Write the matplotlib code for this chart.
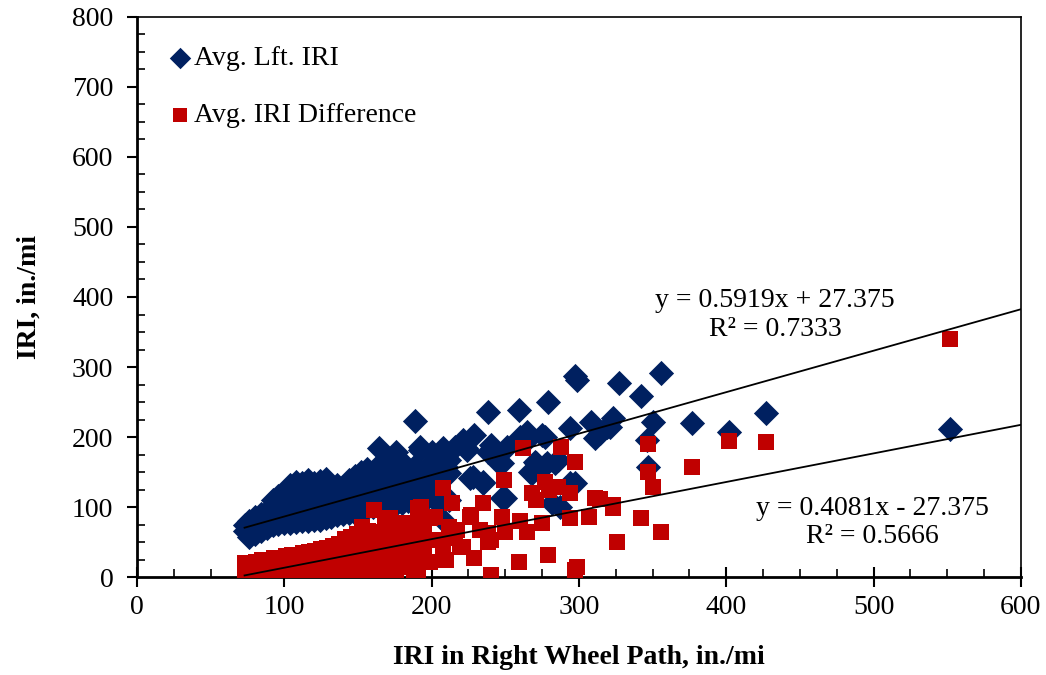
import matplotlib
matplotlib.use("Agg")
import matplotlib.pyplot as plt
from matplotlib.ticker import MultipleLocator

plt.rcParams['font.family'] = ['Liberation Serif', 'DejaVu Serif']

# Avg. Lft. IRI vs IRI in right wheel path (in./mi)
lft_x = [73, 73, 76, 76, 76, 80, 80, 80, 84, 84, 84, 88, 88, 88,
         92, 92, 92, 92, 96, 96, 96, 96, 100, 100, 100, 100,
         104, 104, 104, 104, 104, 108, 108, 108, 108, 108,
         112, 112, 112, 112, 112, 116, 116, 116, 116, 116,
         120, 120, 120, 120, 120, 124, 124, 124, 124, 124,
         128, 128, 128, 128, 128, 132, 132, 132, 132, 136, 136, 136, 136,
         140, 140, 140, 140, 144, 144, 144, 144, 148, 148, 148, 148,
         152, 152, 152, 152, 156, 156, 156, 156, 160, 160, 160, 160,
         164, 164, 164, 164, 164, 168, 168, 168, 168,
         172, 172, 172, 172, 172, 176, 176, 176, 176, 176,
         180, 180, 180, 180, 184, 184, 184, 188, 188, 188, 188, 189,
         192, 192, 192, 192, 192, 196, 196, 196, 199, 200, 200, 200,
         204, 204, 204, 208, 208, 210, 212, 212, 212, 216, 221, 224,
         223, 226, 228, 229, 235, 235, 238, 238, 240, 246, 248, 248,
         250, 251, 260, 259, 265, 267, 267, 268, 270, 271, 275, 277,
         277, 278, 279, 282, 284, 286, 287, 294, 294, 297, 297, 299,
         308, 311, 314, 319, 321, 323, 327, 342, 346, 347, 350, 356,
         377, 402, 427, 552]
lft_y = [66, 75, 58, 70, 80, 62, 74, 86, 66, 78, 90, 70, 82, 94,
         74, 86, 100, 110, 76, 90, 104, 116, 78, 92, 106, 120,
         78, 94, 108, 124, 132, 79, 95, 110, 126, 136,
         80, 96, 112, 128, 134, 80, 98, 114, 130, 138,
         81, 98, 114, 128, 134, 82, 100, 116, 130, 137,
         84, 100, 118, 132, 140, 86, 102, 118, 130, 88, 104, 120, 132,
         90, 106, 122, 128, 92, 108, 124, 138, 92, 110, 126, 144,
         95, 112, 128, 150, 98, 114, 130, 155, 100, 116, 132, 150,
         102, 118, 136, 160, 184, 103, 120, 140, 162,
         104, 122, 144, 166, 149, 105, 124, 146, 168, 179,
         106, 126, 148, 164, 108, 128, 150, 110, 130, 141, 157, 223,
         110, 128, 150, 181, 186, 112, 132, 156, 156, 129, 149, 179,
         106, 134, 170, 81, 184, 157, 110, 149, 167, 186, 196, 181,
         184, 141, 143, 203, 134, 136, 178, 236, 189, 163, 113, 163,
         113, 186, 200, 239, 207, 200, 150, 148, 164, 163, 203, 200,
         160, 163, 250, 106, 163, 167, 100, 213, 134, 134, 287, 281,
         221, 198, 206, 214, 214, 227, 277, 258, 196, 157, 222, 291,
         220, 207, 234, 212]

# Avg. IRI Difference vs IRI in right wheel path (in./mi)
diff_x = [73, 73, 73, 77, 77, 81, 81, 81, 85, 85, 85, 89, 89, 89,
          93, 93, 93, 97, 97, 97, 97, 101, 101, 101,
          105, 105, 105, 105, 109, 109, 109, 113, 113, 113, 113,
          117, 117, 117, 121, 121, 121, 121, 125, 125, 125,
          129, 129, 129, 129, 133, 133, 133, 133, 137, 137, 137, 137,
          141, 141, 141, 141, 145, 145, 145, 145, 149, 149, 149, 149,
          153, 153, 153, 153, 153, 157, 157, 157, 157,
          161, 161, 161, 161, 161, 165, 165, 165, 168, 168, 168, 168,
          172, 172, 172, 172, 176, 176, 176, 176, 180, 180, 180, 180,
          184, 184, 184, 188, 188, 188, 191, 191, 191, 193,
          195, 195, 195, 199, 199, 202, 205, 208, 208, 208, 210,
          212, 212, 214, 216, 217, 219, 221, 226, 227, 229, 233, 235,
          238, 238, 240, 240, 248, 249, 250, 259, 260, 262, 265,
          268, 271, 275, 277, 279, 280, 286, 288, 294, 294, 297, 297,
          299, 307, 311, 314, 323, 323, 326, 342, 347, 347, 350, 356,
          377, 402, 427, 552]
diff_y = [2, 12, 20, 4, 16, 2, 10, 22, 6, 18, 25, 2, 12, 24,
          5, 16, 27, 2, 10, 22, 28, 6, 18, 30,
          2, 12, 24, 32, 6, 18, 32, 2, 12, 26, 35,
          8, 20, 36, 3, 14, 28, 38, 8, 22, 40,
          2, 14, 30, 42, 8, 22, 36, 44, 4, 18, 32, 48,
          10, 26, 40, 54, 3, 18, 34, 58, 8, 26, 44, 62,
          3, 18, 36, 60, 72, 10, 28, 48, 66,
          4, 22, 40, 64, 96, 14, 39, 57, 8, 28, 50, 81,
          20, 39, 64, 84, 6, 30, 50, 77, 14, 40, 60, 77,
          24, 57, 70, 10, 36, 77, 7, 45, 99, 100,
          24, 43, 64, 21, 84, 86, 53, 27, 43, 127, 24,
          64, 72, 106, 56, 67, 43, 43, 86, 89, 27, 67, 106,
          50, 63, 3, 53, 86, 139, 64, 21, 80, 184, 64,
          120, 110, 78, 136, 31, 124, 129, 186, 84, 120, 164, 10,
          14, 86, 113, 111, 103, 98, 50, 84, 150, 190, 128, 65,
          157, 194, 193, 340]

# Excel trendlines (from the chart labels)
lft_slope, lft_icpt = 0.5919, 27.375
diff_slope, diff_icpt = 0.4081, -27.375
x_end = 600

navy = '#002060'
red = '#C00000'

fig = plt.figure(figsize=(10.46, 6.75), dpi=100)
ax = fig.add_axes([0.131, 0.145, 0.845, 0.830])

ax.scatter(lft_x, lft_y, marker='D', s=165, color=navy, linewidths=0,
           label='Avg. Lft. IRI', zorder=2)
ax.scatter(diff_x, diff_y, marker='s', s=140, color=red, linewidths=0,
           label='Avg. IRI Difference', zorder=3)

x0 = min(lft_x)
ax.plot([x0, x_end], [lft_slope * x0 + lft_icpt, lft_slope * x_end + lft_icpt],
        color='black', lw=1.3, zorder=4)
ax.plot([x0, x_end], [diff_slope * x0 + diff_icpt, diff_slope * x_end + diff_icpt],
        color='black', lw=1.3, zorder=4)

ax.text(433, 374, 'y = 0.5919x + 27.375\nR² = 0.7333', ha='center', va='center',
        fontsize=20, linespacing=1.2)
ax.text(499, 78, 'y = 0.4081x - 27.375\nR² = 0.5666', ha='center', va='center',
        fontsize=20, linespacing=1.2)

ax.set_xlim(0, 600)
ax.set_ylim(0, 800)
ax.xaxis.set_major_locator(MultipleLocator(100))
ax.xaxis.set_minor_locator(MultipleLocator(25))
ax.yaxis.set_major_locator(MultipleLocator(100))
ax.yaxis.set_minor_locator(MultipleLocator(25))
ax.tick_params(axis='x', which='major', direction='inout', length=14, width=1.5,
               labelsize=20, pad=6)
ax.tick_params(axis='y', which='major', direction='out', length=7, width=1.5,
               labelsize=20, pad=10)
ax.tick_params(which='minor', direction='in', length=6, width=1.2)
for sp in ['left', 'bottom']:
    ax.spines[sp].set_linewidth(2)
for sp in ['top', 'right']:
    ax.spines[sp].set_linewidth(1.2)

ax.set_xlabel('IRI in Right Wheel Path, in./mi', fontsize=20, fontweight='bold',
              labelpad=18)
ax.set_ylabel('IRI, in./mi', fontsize=20, fontweight='bold', labelpad=22)

ax.legend(loc='upper left', bbox_to_anchor=(0.006, 0.993), frameon=False,
          fontsize=20, handletextpad=0.05, handlelength=0.9, labelspacing=1.12,
          markerscale=0.85)

fig.savefig('out.png', dpi=100)
